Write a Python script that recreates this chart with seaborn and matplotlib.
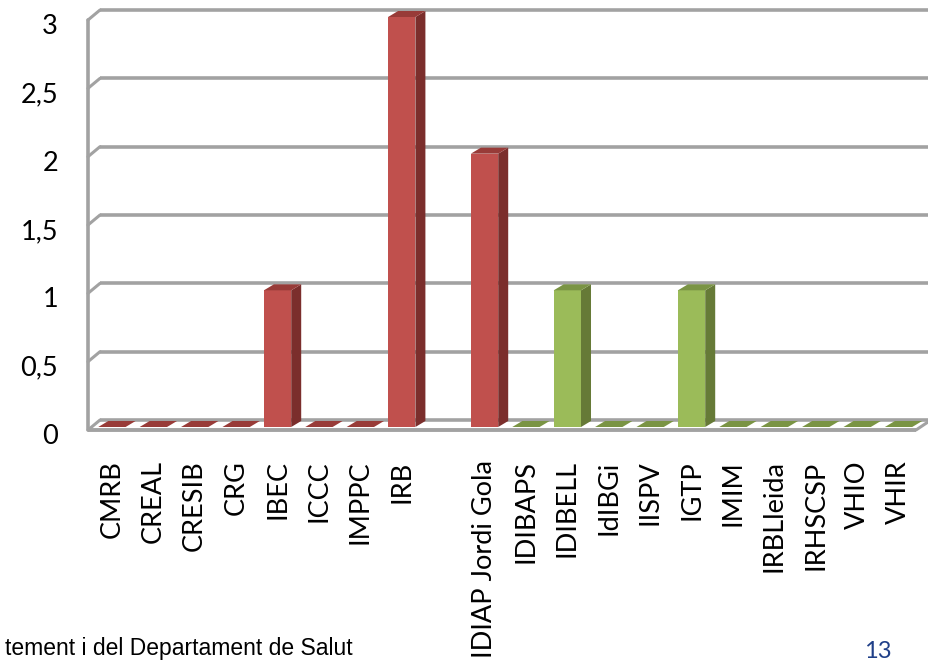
import numpy as np
import pandas as pd
import matplotlib
matplotlib.use("Agg")
import matplotlib.pyplot as plt
import matplotlib.transforms as mtransforms
from matplotlib.patches import Polygon
import seaborn as sns

# ---------------- data ----------------
categories = ["CMRB", "CREAL", "CRESIB", "CRG", "IBEC", "ICCC", "IMPPC", "IRB", " ",
              "IDIAP Jordi Gola", "IDIBAPS", "IDIBELL", "IdIBGi", "IISPV", "IGTP",
              "IMIM", "IRBLleida", "IRHSCSP", "VHIO", "VHIR"]
values = [0, 0, 0, 0, 1, 0, 0, 3, np.nan,
          2, 0, 1, 0, 0, 1, 0, 0, 0, 0, 0]
groups = ["A"] * 10 + ["B"] * 10
y_ticks = [0, 0.5, 1, 1.5, 2, 2.5, 3]
y_tick_labels = ["0", "0,5", "1", "1,5", "2", "2,5", "3"]
footer_text = "tement i del Departament de Salut"
page_number = "13"

front_colors = {"A": "#C0504D", "B": "#9BBB59"}
side_colors = {"A": "#7B2E2C", "B": "#667A37"}
top_colors = {"A": "#983B38", "B": "#7A9444"}

df = pd.DataFrame({"cat": categories, "val": values, "grp": groups})

sns.set_theme(style="white")
plt.rcParams["font.family"] = ["Lato", "DejaVu Sans"]

W, H = 929, 665
fig = plt.figure(figsize=(W / 100, H / 100), dpi=100)
# bar front plane (pixels)
left_px, right_px, top_px, bottom_px = 90, 918, 17, 427
ax = fig.add_axes([left_px / W, (H - bottom_px) / H,
                   (right_px - left_px) / W, (bottom_px - top_px) / H])

sns.barplot(data=df, x="cat", y="val", hue="grp", order=categories,
            palette=front_colors, dodge=False, width=0.66, ax=ax,
            legend=False, saturation=1, linewidth=0, zorder=5)

xlim = (-0.53, len(categories) - 0.53)
ax.set_xlim(*xlim)
ax.set_ylim(0, 3)

ppx = (right_px - left_px) / (xlim[1] - xlim[0])   # px per x unit
ppy = (bottom_px - top_px) / 3.0                   # px per y unit


def off(x, y, dx, dy):
    return (x + dx / ppx, y + dy / ppy)


# walls: front edge offset and back plane offset (pixels, y up)
grid_col = "#A2A2A2"
fdx, fdy = -2, -3
bdx, bdy = 10, 7
for v in y_ticks:
    xf, yf = off(xlim[0], v, fdx, fdy)
    xb, yb = off(xlim[0], v, bdx, bdy)
    xe, _ = off(xlim[1], v, bdx + 3, bdy)
    ax.plot([xb, xe], [yb, yb], color=grid_col, lw=2.6, clip_on=False, zorder=1,
            solid_capstyle="butt")
    ax.plot([xf, xb], [yf, yb], color=grid_col, lw=2.2, clip_on=False, zorder=1)
xf0, yf0 = off(xlim[0], 0, fdx, fdy)
_, yf3 = off(xlim[0], 3, fdx, fdy)
ax.plot([xf0, xf0], [yf0, yf3], color=grid_col, lw=2.6, clip_on=False, zorder=1)
# floor front edge
xfe, _ = off(xlim[1], 0, fdx, fdy)
ax.plot([xf0, xfe], [yf0, yf0], color=grid_col, lw=2.8, clip_on=False, zorder=7,
        solid_capstyle="butt")
xr, yr = off(xlim[1], 0, bdx + 3, bdy)
ax.plot([xfe, xr], [yf0, yr], color=grid_col, lw=2.2, clip_on=False, zorder=2)

# 3D faces for each bar
bar_dx, bar_dy = 10, 6
for p in ax.patches:
    h = p.get_height()
    if not np.isfinite(h):
        continue
    x = p.get_x()
    w = p.get_width()
    idx = int(round(x + w / 2))
    g = groups[idx]
    xr_ = x + w
    side = [(xr_, 0), off(xr_, 0, bar_dx, bar_dy), off(xr_, h, bar_dx, bar_dy), (xr_, h)]
    top = [(x, h), (xr_, h), off(xr_, h, bar_dx, bar_dy), off(x, h, bar_dx, bar_dy)]
    ax.add_patch(Polygon(side, closed=True, facecolor=side_colors[g], edgecolor="none",
                         zorder=4, clip_on=False))
    ax.add_patch(Polygon(top, closed=True, facecolor=top_colors[g], edgecolor="none",
                         zorder=6, clip_on=False))

# axes styling
for s in ax.spines.values():
    s.set_visible(False)
ax.set_xlabel("")
ax.set_ylabel("")
ax.set_yticks(y_ticks)
ax.set_yticklabels(y_tick_labels, fontsize=19.5, color="#000000")
ax.tick_params(axis="y", length=0, pad=23)
ax.set_xticks(range(len(categories)))
ax.set_xticklabels(categories, rotation=90, fontsize=19.5, color="#000000",
                   ha="center", va="top")
ax.tick_params(axis="x", length=0, pad=24)
shift = mtransforms.ScaledTranslation(0, -7 / 100, fig.dpi_scale_trans)
for lab in ax.get_yticklabels():
    lab.set_transform(lab.get_transform() + shift)
ax.grid(False)
ax.set_facecolor("none")

fig.text(5 / W, 1 - 655 / H, footer_text, fontsize=16.5, family="Liberation Sans",
         color="#000000", ha="left", va="baseline")
fig.text(878 / W, 1 - 658 / H, page_number, fontsize=17, color="#1F3F88",
         ha="center", va="baseline")

fig.savefig("out.png", dpi=100)
